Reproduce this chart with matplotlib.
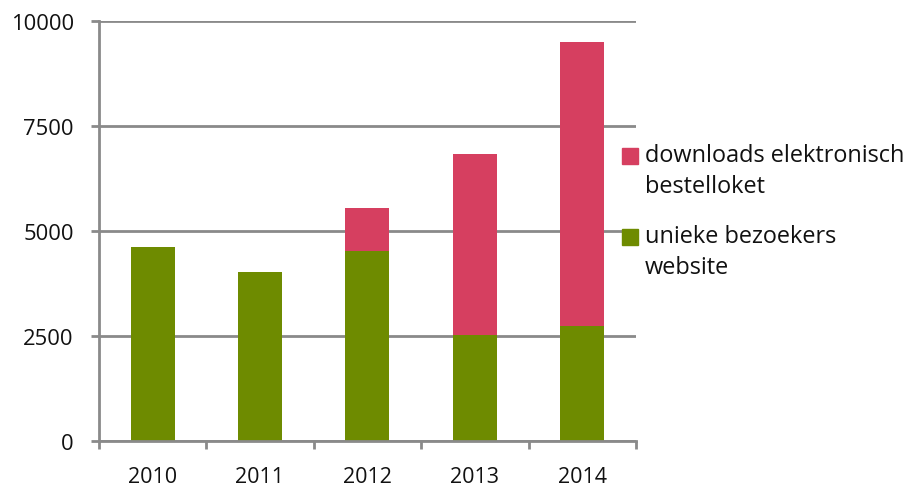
import matplotlib
matplotlib.use("Agg")
import matplotlib.pyplot as plt
from matplotlib.patches import Rectangle
import numpy as np

years = ["2010", "2011", "2012", "2013", "2014"]
visitors = [4620, 4020, 4510, 2510, 2740]
downloads = [0, 0, 1020, 4320, 6760]
labels = ["unieke bezoekers\nwebsite", "downloads elektronisch\nbestelloket"]
yticks = [0, 2500, 5000, 7500, 10000]

plt.rcParams['font.family'] = ['Open Sans', 'DejaVu Sans']
green = "#6E8B00"
red = "#D63F60"
gridc = "#8A8A8A"
textc = "#111111"

W, H = 915, 489
fig = plt.figure(figsize=(W / 100, H / 100), dpi=100)
ax = fig.add_axes([0.108, 0.0967, 0.587, 0.8589])
x = np.arange(len(years))
b1 = ax.bar(x, visitors, width=0.41, color=green, zorder=3)
b2 = ax.bar(x, downloads, width=0.41, bottom=visitors, color=red, zorder=3)

ax.set_xlim(-0.5, len(years) - 0.5)
ax.set_ylim(0, 10000)
ax.set_yticks(yticks)
ax.set_yticklabels([str(v) for v in yticks], fontsize=15.8, color=textc)
ax.set_xticks(x)
ax.set_xticklabels(years, fontsize=15.5, color=textc)
ax.set_xticks(np.arange(-0.5, len(years)), minor=True)
ax.tick_params(axis='x', which='major', length=0, pad=18)
ax.tick_params(axis='x', which='minor', length=6, width=2, color=gridc, direction='out')
ax.tick_params(axis='y', length=6, width=2, color=gridc, direction='out', pad=12)
ax.yaxis.grid(True, color=gridc, linewidth=2, zorder=0)
for s in ['top', 'right']:
    ax.spines[s].set_visible(False)
for s in ['left', 'bottom']:
    ax.spines[s].set_color(gridc)
    ax.spines[s].set_linewidth(2)
ax.spines['bottom'].set_zorder(4)

# legend drawn manually (square aligned with first text line)
entries = [(red, labels[1], 149), (green, labels[0], 230)]
for col, lab, ytop in entries:
    fig.patches.append(Rectangle((622 / W, 1 - (ytop + 16) / H), 16 / W, 16 / H,
                                 transform=fig.transFigure, color=col))
    fig.text(645 / W, 1 - (ytop - 5) / H, lab, fontsize=16.9, color=textc,
             va='top', ha='left', linespacing=1.4)

fig.savefig("out.png", dpi=100)
